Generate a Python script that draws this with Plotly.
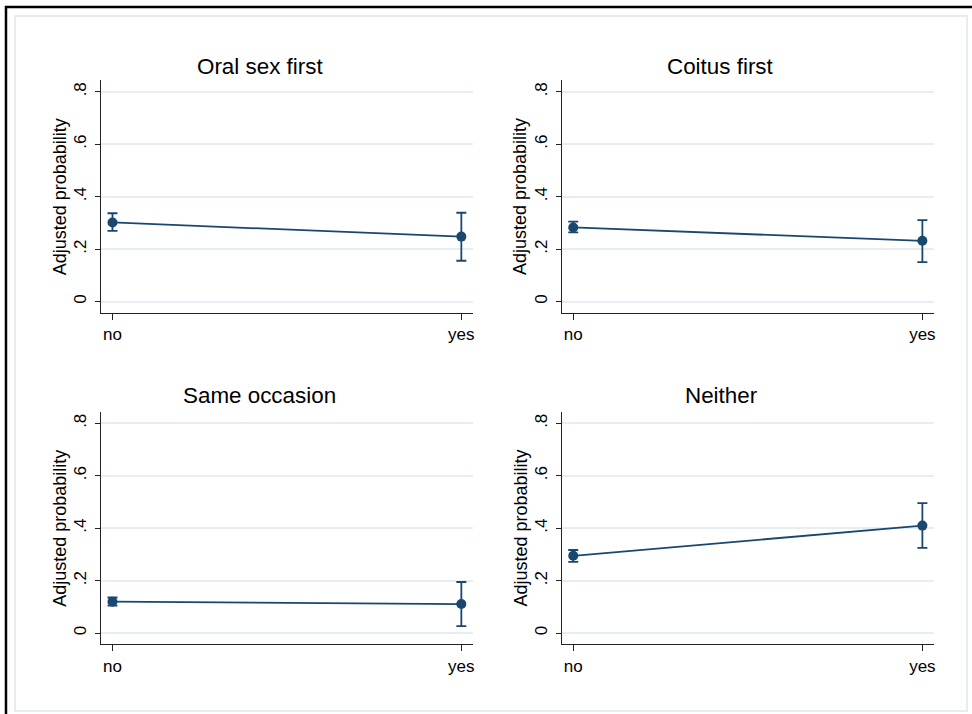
import plotly.graph_objects as go

W, H = 972, 714

categories = ["no", "yes"]
panel_titles = ["Oral sex first", "Coitus first", "Same occasion", "Neither"]
prob = [
    [0.302, 0.248],
    [0.283, 0.232],
    [0.120, 0.111],
    [0.295, 0.410],
]
ci_low = [
    [0.270, 0.156],
    [0.264, 0.151],
    [0.105, 0.027],
    [0.272, 0.325],
]
ci_high = [
    [0.337, 0.339],
    [0.305, 0.311],
    [0.136, 0.195],
    [0.317, 0.496],
]
y_tickvals = [0, 0.2, 0.4, 0.6, 0.8]
y_ticktext = ["0", ".2", ".4", ".6", ".8"]
y_title = "Adjusted probability"

NAVY = "#1a476f"
GRID = "#e6eef1"
FONT = "Liberation Sans, Arial, sans-serif"


def px_x(x):
    return x / W


def px_y(y):
    return 1 - y / H


# panel pixel boxes: (x0, x1, ytop, ybottom)
boxes = [
    (101, 474, 80, 312.7),
    (562.7, 936, 80, 312.7),
    (101, 474, 411.5, 644.2),
    (562.7, 936, 411.5, 644.2),
]
title_pos = [(261, 66), (722, 66), (260, 395), (723, 395)]

fig = go.Figure()
layout = dict(
    width=W, height=H,
    margin=dict(l=0, r=0, t=0, b=0),
    paper_bgcolor="white", plot_bgcolor="white",
    showlegend=False,
    font=dict(family=FONT, color="black", size=17),
)
annotations = []
for i in range(4):
    sfx = "" if i == 0 else str(i + 1)
    x0, x1, yt, yb = boxes[i]
    lo = [p - l for p, l in zip(prob[i], ci_low[i])]
    hi = [h - p for p, h in zip(prob[i], ci_high[i])]
    fig.add_trace(go.Scatter(
        x=categories, y=prob[i], mode="lines+markers",
        xaxis="x" + sfx, yaxis="y" + sfx,
        line=dict(color=NAVY, width=1.8),
        marker=dict(color=NAVY, size=10),
        error_y=dict(type="data", symmetric=False, array=hi, arrayminus=lo,
                     color=NAVY, thickness=1.8, width=5),
    ))
    layout["xaxis" + sfx] = dict(
        domain=[px_x(x0), px_x(x1)], anchor="y" + sfx,
        type="category", range=[-0.0335, 1.0335],
        showline=True, linecolor="#222", linewidth=1,
        ticks="outside", ticklen=6, tickcolor="#222", tickwidth=1,
        showgrid=False, zeroline=False,
        tickfont=dict(size=17, family=FONT, color="black"),
    )
    layout["yaxis" + sfx] = dict(
        domain=[px_y(yb), px_y(yt)], anchor="x" + sfx,
        range=[-0.042, 0.845],
        tickvals=y_tickvals, ticktext=y_ticktext, tickangle=-90,
        showline=True, linecolor="#222", linewidth=1,
        ticks="outside", ticklen=5, tickcolor="#222", tickwidth=1,
        showgrid=True, gridcolor=GRID, gridwidth=1.5, zeroline=False,
        tickfont=dict(size=17, family=FONT, color="black"),
        ticklabelstandoff=2,
    )
    tx, ty = title_pos[i]
    annotations.append(dict(
        x=px_x(tx), y=px_y(ty), xref="paper", yref="paper",
        text=panel_titles[i], showarrow=False,
        font=dict(size=22.4, family=FONT, color="black"),
        xanchor="center", yanchor="middle",
    ))
    annotations.append(dict(
        x=px_x(x0 - 41), y=px_y((yt + yb) / 2), xref="paper", yref="paper",
        text=y_title, showarrow=False, textangle=-90,
        font=dict(size=18, family=FONT, color="black"),
        xanchor="center", yanchor="middle",
    ))

layout["annotations"] = annotations
layout["shapes"] = [
    dict(type="rect", xref="paper", yref="paper",
         x0=px_x(15), x1=px_x(969), y0=px_y(711), y1=px_y(16),
         line=dict(color="#e6ecef", width=2), fillcolor="rgba(0,0,0,0)", layer="below"),
    dict(type="rect", xref="paper", yref="paper",
         x0=px_x(6), x1=px_x(990), y0=px_y(730), y1=px_y(7),
         line=dict(color="black", width=2.5), fillcolor="rgba(0,0,0,0)"),
]
fig.update_layout(**layout)
fig.write_html(
    "out.html",
    config={"displayModeBar": False},
    post_script="document.body.style.margin='0';document.body.style.overflow='hidden';",
)
